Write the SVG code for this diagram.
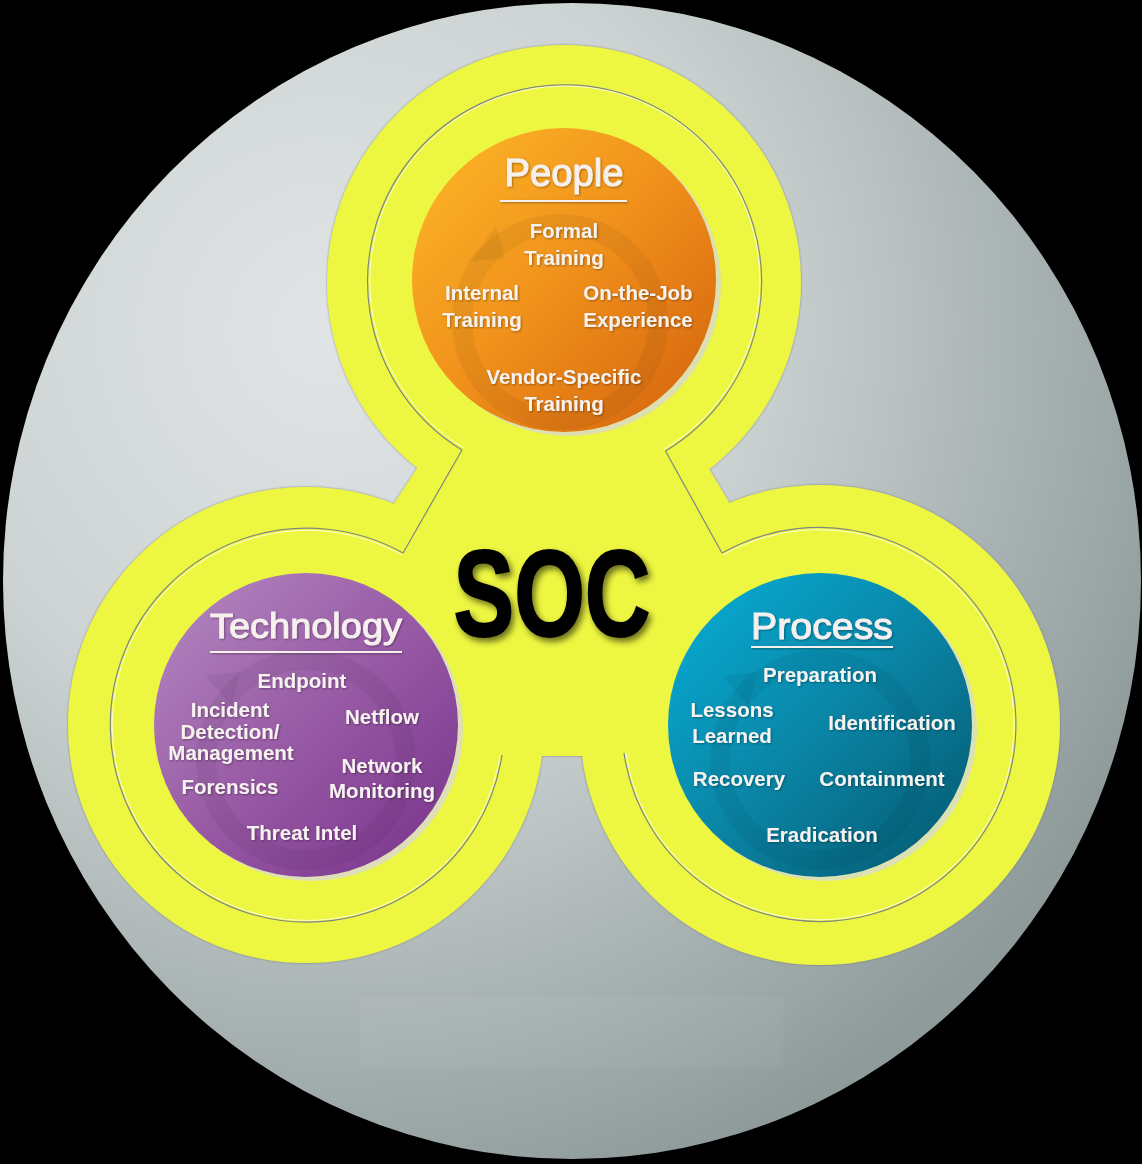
<svg xmlns="http://www.w3.org/2000/svg" width="1142" height="1164" viewBox="0 0 1142 1164">
  <defs>
    <radialGradient id="bgGrad" gradientUnits="userSpaceOnUse" cx="330" cy="330" r="900">
      <stop offset="0" stop-color="#e0e4e4"/>
      <stop offset="0.45" stop-color="#cdd3d3"/>
      <stop offset="1" stop-color="#8f9b9b"/>
    </radialGradient>
    <linearGradient id="gPeople" x1="0" y1="0" x2="1" y2="1">
      <stop offset="0" stop-color="#fdb927"/>
      <stop offset="0.5" stop-color="#f0901b"/>
      <stop offset="1" stop-color="#d2600c"/>
    </linearGradient>
    <linearGradient id="gTech" x1="0" y1="0" x2="1" y2="1">
      <stop offset="0" stop-color="#b58bc2"/>
      <stop offset="0.5" stop-color="#985aa5"/>
      <stop offset="1" stop-color="#77318a"/>
    </linearGradient>
    <linearGradient id="gProc" x1="0" y1="0" x2="1" y2="1">
      <stop offset="0" stop-color="#07afd8"/>
      <stop offset="0.5" stop-color="#0a85a6"/>
      <stop offset="1" stop-color="#04566c"/>
    </linearGradient>
    <filter id="yEdge" x="-5%" y="-5%" width="110%" height="110%">
      <feDropShadow dx="0" dy="0" stdDeviation="1.2" flood-color="#5a6260" flood-opacity="0.7"/>
    </filter>
    <filter id="socShadow" x="-10%" y="-10%" width="130%" height="130%">
      <feGaussianBlur in="SourceAlpha" stdDeviation="3"/>
      <feOffset dx="3" dy="4" result="b"/>
      <feComponentTransfer><feFuncA type="linear" slope="0.55"/></feComponentTransfer>
      <feMerge><feMergeNode/><feMergeNode in="SourceGraphic"/></feMerge>
    </filter>
    <filter id="txtGlow" x="-10%" y="-20%" width="120%" height="140%">
      <feGaussianBlur in="SourceAlpha" stdDeviation="1.2"/>
      <feOffset dx="1" dy="1"/>
      <feComponentTransfer><feFuncA type="linear" slope="0.35"/></feComponentTransfer>
      <feMerge><feMergeNode/><feMergeNode in="SourceGraphic"/></feMerge>
    </filter>
  </defs>
  <style>
    .yellow { fill: #edf63f; }
    .ring { fill: none; stroke: #7f8782; stroke-width: 1.2; }
    .ringHi { fill: none; stroke: #ffffff; stroke-width: 1; stroke-opacity: 0.75; }
    .title { font-family: "Liberation Sans", Arial, sans-serif; fill: #f6f1ee; text-anchor: middle; stroke: #f6f1ee; stroke-width: 1; }
    .item { font-family: "Liberation Sans", Arial, sans-serif; font-weight: bold; font-size: 20.5px; fill: #f6f2ef; text-anchor: middle; }
    .uline { stroke: #f6f1ee; stroke-width: 2; }
    .cycle { fill: none; stroke: #000000; stroke-opacity: 0.05; stroke-width: 20; }
    .cycleHead { fill: #000000; fill-opacity: 0.05; }
  </style>

  <rect x="0" y="0" width="1142" height="1164" fill="#000000"/>

  <g id="background">
    <ellipse cx="572" cy="581" rx="569" ry="578" fill="url(#bgGrad)"/>
    <rect x="360" y="997" width="423" height="70" fill="#ffffff" fill-opacity="0.04"/>
  </g>

  <g id="trefoil" filter="url(#yEdge)">
    <circle class="yellow" cx="564" cy="282" r="237"/>
    <circle class="yellow" cx="306" cy="725" r="238"/>
    <circle class="yellow" cx="820" cy="725" r="240"/>
    <polygon class="yellow" points="418,467 708,467 730,504 584,756 542,756 393,505"/>
  </g>

  <g id="connectors">
    <path class="ring" d="M 462 450 A 197 197 0 1 1 665.5 451"/>
    <path class="ringHi" d="M 464 448 A 195 195 0 1 1 664 449"/>
    <path class="ring" d="M 403 553 A 197 197 0 1 0 502 755"/>
    <path class="ringHi" d="M 402 555 A 195 195 0 1 0 500 755"/>
    <path class="ring" d="M 722 553 A 197 197 0 1 1 624 753"/>
    <path class="ringHi" d="M 723 555 A 195 195 0 1 1 626 753"/>
    <line class="ring" x1="462" y1="450" x2="403" y2="553"/>
    <line class="ring" x1="665.5" y1="451" x2="722" y2="553"/>
  </g>

  <g id="people">
    <circle cx="569" cy="284" r="152" fill="#d9d9cc" fill-opacity="0.8"/>
    <circle cx="564" cy="280" r="152" fill="url(#gPeople)"/>
    <circle class="cycle" cx="560" cy="322" r="98"/>
    <polygon class="cycleHead" points="468,262 496,226 505,258"/>
    <g filter="url(#txtGlow)">
      <text class="title" x="564" y="186" font-size="38" textLength="119" lengthAdjust="spacingAndGlyphs">People</text>
      <line class="uline" x1="500" y1="201" x2="627" y2="201"/>
      <text class="item" x="564" y="238">Formal</text>
      <text class="item" x="564" y="265">Training</text>
      <text class="item" x="482" y="300">Internal</text>
      <text class="item" x="482" y="327">Training</text>
      <text class="item" x="638" y="300">On-the-Job</text>
      <text class="item" x="638" y="327">Experience</text>
      <text class="item" x="564" y="384">Vendor-Specific</text>
      <text class="item" x="564" y="411">Training</text>
    </g>
  </g>

  <g id="technology">
    <circle cx="311" cy="729" r="152" fill="#d9d9d6" fill-opacity="0.8"/>
    <circle cx="306" cy="725" r="152" fill="url(#gTech)"/>
    <circle class="cycle" cx="306" cy="760" r="100"/>
    <polygon class="cycleHead" points="205,676 240,672 232,706"/>
    <g filter="url(#txtGlow)">
      <text class="title" x="306" y="638" font-size="35" textLength="192" lengthAdjust="spacingAndGlyphs">Technology</text>
      <line class="uline" x1="210" y1="652" x2="402" y2="652"/>
      <text class="item" x="302" y="688">Endpoint</text>
      <text class="item" x="230" y="717">Incident</text>
      <text class="item" x="230" y="739">Detection/</text>
      <text class="item" x="231" y="760">Management</text>
      <text class="item" x="230" y="794">Forensics</text>
      <text class="item" x="382" y="724">Netflow</text>
      <text class="item" x="382" y="773">Network</text>
      <text class="item" x="382" y="798">Monitoring</text>
      <text class="item" x="302" y="840">Threat Intel</text>
    </g>
  </g>

  <g id="process">
    <circle cx="825" cy="729" r="152" fill="#d6dcd0" fill-opacity="0.8"/>
    <circle cx="820" cy="725" r="152" fill="url(#gProc)"/>
    <circle class="cycle" cx="820" cy="760" r="100"/>
    <polygon class="cycleHead" points="722,676 757,672 749,706"/>
    <g filter="url(#txtGlow)">
      <text class="title" x="822" y="639" font-size="36" textLength="142" lengthAdjust="spacingAndGlyphs">Process</text>
      <line class="uline" x1="751" y1="647" x2="893" y2="647"/>
      <text class="item" x="820" y="682">Preparation</text>
      <text class="item" x="732" y="717">Lessons</text>
      <text class="item" x="732" y="743">Learned</text>
      <text class="item" x="892" y="730">Identification</text>
      <text class="item" x="739" y="786">Recovery</text>
      <text class="item" x="882" y="786">Containment</text>
      <text class="item" x="822" y="842">Eradication</text>
    </g>
  </g>

  <g id="soc" filter="url(#socShadow)">
    <text x="552" y="636" font-family="Liberation Sans, Arial, sans-serif" font-weight="bold" font-size="122" text-anchor="middle" fill="#000000" stroke="#000000" stroke-width="2" textLength="197" lengthAdjust="spacingAndGlyphs">SOC</text>
  </g>
</svg>
